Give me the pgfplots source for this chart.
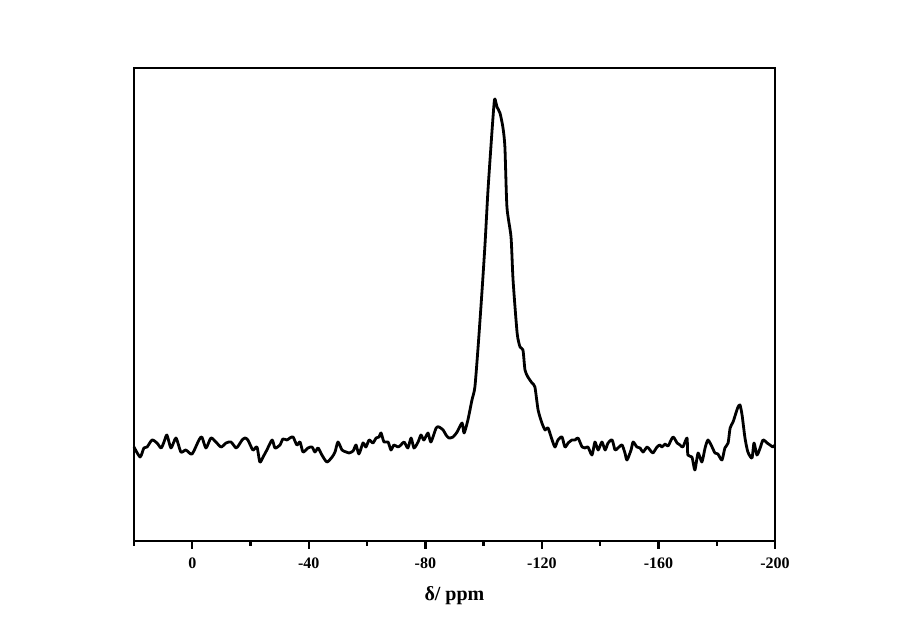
\documentclass[border=0pt]{standalone}
\usepackage{fontspec}
\setmainfont{Liberation Serif}
\usepackage{pgfplots}
\pgfplotsset{compat=1.18}

\begin{document}
\begin{tikzpicture}
\useasboundingbox (-67pt,-45pt) rectangle (383pt,270.5pt);
\begin{axis}[
  at={(0,0)}, anchor=south west,
  scale only axis,
  width=320.5pt, height=236.5pt,
  x dir=reverse,
  xmin=-200, xmax=20,
  ymin=0, ymax=473,
  axis line style={line width=1pt},
  xtick={0,-40,-80,-120,-160,-200},
  xticklabels={0,-40,-80,-120,-160,-200},
  minor xtick={20,-20,-60,-100,-140,-180},
  ytick=\empty,
  xtick pos=bottom,
  tick align=outside,
  major tick length=4pt,
  minor tick length=2.5pt,
  every tick/.style={black, line width=1.2pt},
  xticklabel style={font=\fontsize{8}{9}\selectfont\bfseries, yshift=-1pt},
  xlabel={\fontsize{10}{12}\selectfont\bfseries δ/ ppm},
  xlabel style={yshift=-2pt},
  clip=false,
]
% chemical shift (ppm), intensity (arbitrary units)
\addplot[black, line width=1.4pt, line join=round, smooth, tension=0.4] coordinates {
(20.0,94) (17.9,84) (16.6,93) (15.5,94) (13.8,101) (12.1,98) (10.7,93) (9.7,99)
(8.7,106) (7.3,93) (5.6,103) (3.9,89) (2.2,91) (0.1,87) (-2.3,101) (-3.3,104)
(-4.7,93) (-6.4,103) (-8.1,99) (-9.9,94) (-11.6,98) (-13.3,99) (-15.0,93) (-16.0,96)
(-17.1,101) (-18.1,103) (-19.1,101) (-20.8,91) (-22.2,94) (-23.2,79) (-24.3,84) (-25.6,91)
(-27.4,101) (-28.4,93) (-30.1,96) (-31.1,102) (-32.5,101) (-33.5,103) (-34.6,104) (-35.9,96)
(-37.0,99) (-38.0,89) (-39.7,93) (-41.1,94) (-42.1,89) (-43.2,93) (-44.5,86) (-46.2,79)
(-48.0,84) (-49.0,89) (-50.0,99) (-51.4,91) (-52.8,89) (-53.8,88) (-55.2,90) (-56.2,96)
(-57.2,87) (-58.6,98) (-59.6,94) (-60.7,101) (-62.0,98) (-63.1,103) (-64.1,104) (-64.8,108)
(-65.8,99) (-67.2,99) (-68.2,91) (-69.2,96) (-70.6,94) (-71.6,96) (-72.7,99) (-74.0,93)
(-75.1,103) (-76.1,93) (-77.5,99) (-78.5,106) (-79.5,101) (-80.9,108) (-81.9,99) (-83.7,113)
(-84.7,114) (-86.1,111) (-87.1,106) (-88.1,103) (-89.5,104) (-90.9,109) (-92.6,118) (-93.3,108)
(-94.6,121) (-96.0,141) (-97.0,154) (-98.1,194) (-99.4,248) (-100.5,298) (-101.5,351) (-102.9,411)
(-103.6,438) (-103.9,442) (-104.6,434) (-105.6,428) (-106.6,414) (-107.3,394) (-108.0,334) (-109.4,304)
(-110.1,261) (-111.5,208) (-112.5,194) (-113.5,191) (-114.2,171) (-115.2,164) (-116.6,158) (-117.6,154)
(-118.7,131) (-120.0,118) (-121.1,111) (-122.1,113) (-123.5,101) (-124.5,94) (-125.5,101) (-126.9,104)
(-127.9,94) (-129.0,98) (-130.3,101) (-131.4,101) (-132.4,103) (-133.8,94) (-134.8,93) (-135.8,94)
(-137.2,86) (-138.2,99) (-139.3,91) (-140.6,99) (-141.7,91) (-142.7,98) (-144.1,101) (-145.1,91)
(-146.1,93) (-147.5,96) (-148.5,88) (-149.2,81) (-150.6,91) (-151.3,99) (-152.6,94) (-153.7,93)
(-154.7,89) (-156.1,94) (-157.1,91) (-158.1,88) (-159.5,94) (-160.5,96) (-161.2,94) (-162.3,97)
(-163.3,95) (-165.0,104) (-166.4,98) (-167.4,96) (-168.4,94) (-169.8,103) (-170.1,86) (-171.5,84)
(-172.5,71) (-173.6,88) (-174.9,79) (-176.0,93) (-177.0,101) (-178.4,94) (-179.4,88) (-180.4,87)
(-181.8,81) (-182.8,93) (-183.9,98) (-184.6,113) (-185.6,119) (-186.6,128) (-187.3,134) (-188.0,136)
(-188.7,126) (-189.7,103) (-190.7,89) (-192.1,83) (-192.8,98) (-193.8,86) (-194.9,93) (-195.9,101)
(-197.3,98) (-198.3,96) (-199.3,94) (-200.0,96)
};
\end{axis}
\end{tikzpicture}
\end{document}
